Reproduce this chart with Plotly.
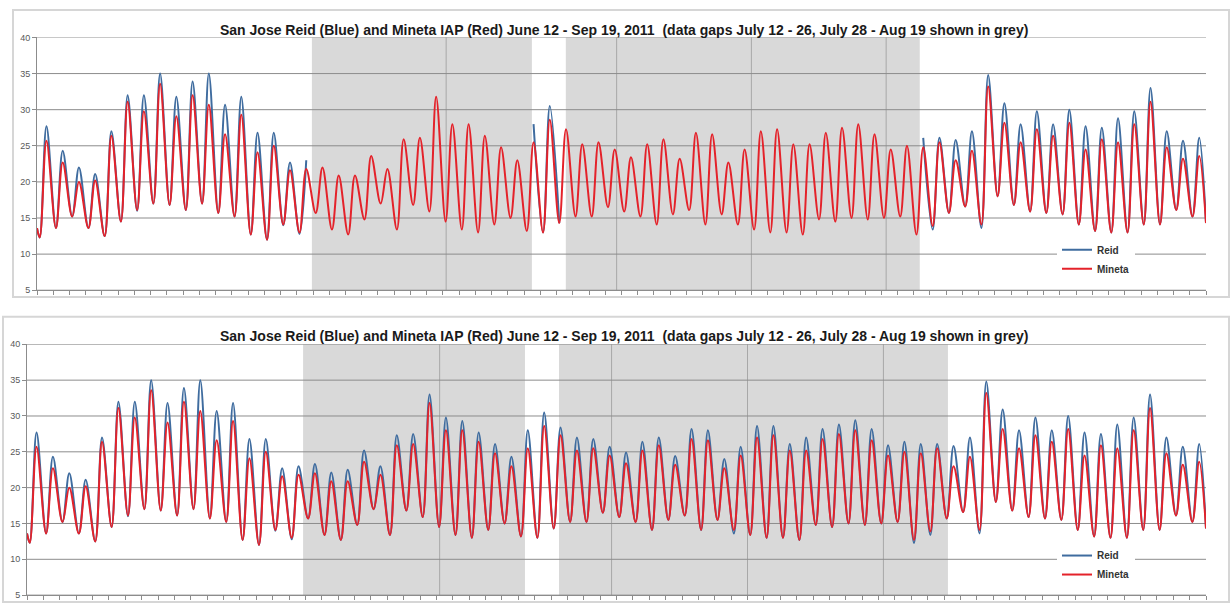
import plotly.graph_objects as go

# ---------------- data ----------------
# daily minimum (early morning) and maximum (afternoon), deg C, day 0 .. 71
mineta_min = [12.3, 13.6, 15.2, 13.6, 12.5, 14.5, 16.1, 17.0, 16.8, 16.1,
              17.0, 15.7, 15.2, 12.7, 12.0, 14.1, 13.0, 15.7, 13.4, 12.7,
              14.8, 17.0, 13.4, 16.8, 15.9, 14.5, 13.4, 13.0, 14.1, 15.0,
              13.2, 13.0, 14.3, 15.2, 15.2, 16.5, 15.9, 15.2, 14.1, 15.5,
              16.1, 14.1, 15.5, 14.1, 13.4, 13.0, 13.0, 12.7, 14.8, 14.5,
              15.0, 14.8, 15.0, 15.2, 12.7, 13.9, 15.7, 16.6, 14.1, 18.0,
              16.8, 15.9, 15.7, 15.5, 14.1, 13.2, 13.0, 13.0, 14.1, 14.1,
              16.1, 15.2]
mineta_max = [25.7, 22.7, 20.0, 20.2, 26.4, 31.1, 29.8, 33.6, 29.1, 32.0,
              30.7, 26.6, 29.3, 24.1, 25.0, 21.6, 21.8, 22.0, 20.9, 20.9,
              23.6, 21.8, 25.9, 26.1, 31.8, 28.0, 28.0, 26.4, 24.8, 23.0,
              25.5, 28.6, 27.3, 25.2, 25.5, 24.5, 23.4, 25.2, 25.9, 23.2,
              26.8, 26.6, 22.7, 24.5, 27.0, 27.3, 25.2, 25.2, 26.8, 27.5,
              28.0, 26.6, 24.5, 25.0, 24.8, 25.5, 23.0, 24.3, 33.2, 28.2,
              25.5, 27.3, 26.4, 28.2, 24.5, 25.9, 25.5, 28.0, 31.1, 24.8,
              23.2, 23.6]
reid_min = [12.3, 13.6, 15.2, 13.6, 12.5, 14.5, 16.0, 17.0, 16.8, 16.1,
            17.0, 15.7, 15.2, 12.7, 12.0, 14.0, 12.8, 15.7, 13.4, 12.7,
            14.8, 17.0, 13.4, 16.8, 15.9, 14.5, 13.4, 13.0, 14.1, 15.0,
            13.2, 13.0, 14.3, 15.2, 15.2, 16.5, 15.9, 15.2, 14.1, 15.5,
            16.1, 14.1, 15.5, 13.6, 13.4, 13.0, 13.0, 12.7, 14.8, 14.5,
            15.0, 14.8, 15.0, 15.2, 12.3, 13.4, 15.7, 16.6, 13.6, 18.0,
            16.8, 15.9, 15.7, 15.5, 14.1, 13.2, 13.0, 13.0, 14.1, 14.1,
            16.1, 15.2]
reid_max = [27.7, 24.3, 22.0, 21.1, 27.0, 32.0, 32.0, 35.0, 31.8, 33.9,
            35.0, 30.7, 31.8, 26.8, 26.8, 22.7, 23.0, 23.3, 22.1, 22.5,
            25.2, 23.0, 27.3, 27.5, 33.0, 29.8, 29.3, 27.7, 26.1, 24.3,
            28.0, 30.5, 28.4, 27.0, 26.8, 25.7, 24.9, 26.4, 27.0, 24.4,
            28.2, 28.0, 24.0, 25.7, 28.6, 28.6, 26.1, 27.0, 28.2, 28.8,
            29.4, 28.2, 25.9, 26.4, 26.1, 26.1, 25.8, 27.0, 34.8, 30.9,
            28.0, 29.8, 28.0, 30.0, 27.7, 27.5, 28.8, 29.8, 33.0, 27.0,
            25.7, 26.1]
start_temp = 13.6
end_temp = 14.3
min_hour = 4     # hour of day of the minimum
max_hour = 14    # hour of day of the maximum
n_days = 72

# data gaps (in days from start) shown in grey
top_gaps = [(16.93, 30.48), (32.57, 54.37)]
bottom_gaps = [(16.86, 30.41), (32.49, 56.24)]
divider_days = [25.2, 35.7, 44.0, 52.3]
y_ticks = [5, 10, 15, 20, 25, 30, 35, 40]

title_text = ("San Jose Reid (Blue) and Mineta IAP (Red) June 12 - Sep 19, 2011 "
              "\u00a0(data gaps July 12 - 26, July 28 - Aug 19 shown in grey)")

REID_COLOR = "#3f6c9f"
MINETA_COLOR = "#e4222a"
GREY = "#d9d9d9"
GRID = "#8c8c8c"


def build(mins, maxs):
    xs, ys = [0.0], [start_temp]
    for k in range(n_days):
        xs += [k + min_hour / 24, k + max_hour / 24]
        ys += [mins[k], maxs[k]]
    xs.append(float(n_days))
    ys.append(end_temp)
    return xs, ys


def mask(xs, ys, gaps):
    return [None if any(a <= x <= b for a, b in gaps) else y for x, y in zip(xs, ys)]


rx, ry = build(reid_min, reid_max)
mx, my = build(mineta_min, mineta_max)

fig = go.Figure()
# top panel: Reid missing inside grey gaps
fig.add_trace(go.Scatter(x=rx, y=mask(rx, ry, top_gaps), name="Reid", mode="lines",
                         line=dict(color=REID_COLOR, width=2, shape="spline"),
                         connectgaps=False, xaxis="x", yaxis="y", legend="legend"))
fig.add_trace(go.Scatter(x=mx, y=my, name="Mineta", mode="lines",
                         line=dict(color=MINETA_COLOR, width=2, shape="spline"),
                         xaxis="x", yaxis="y", legend="legend"))
# bottom panel
fig.add_trace(go.Scatter(x=rx, y=ry, name="Reid", mode="lines",
                         line=dict(color=REID_COLOR, width=2, shape="spline"),
                         xaxis="x2", yaxis="y2", legend="legend2"))
fig.add_trace(go.Scatter(x=mx, y=my, name="Mineta", mode="lines",
                         line=dict(color=MINETA_COLOR, width=2, shape="spline"),
                         xaxis="x2", yaxis="y2", legend="legend2"))

W, H = 1230, 608
shapes = []
for gaps, xr, yr, ya in [(top_gaps, "x", "y domain", "y"), (bottom_gaps, "x2", "y2 domain", "y2")]:
    for a, b in gaps:
        shapes.append(dict(type="rect", xref=xr, yref=yr, x0=a, x1=b, y0=0, y1=1,
                           fillcolor=GREY, line=dict(width=0), layer="below"))
    for d in divider_days:
        shapes.append(dict(type="line", xref=xr, yref=yr, x0=d, x1=d, y0=0, y1=1,
                           line=dict(color="#a8a8a8", width=1), layer="below"))
    # horizontal gridlines drawn over the grey bands
    for t in y_ticks:
        shapes.append(dict(type="line", xref=xr + " domain", yref=ya, x0=0, x1=1, y0=t, y1=t,
                           line=dict(color=GRID, width=1), layer="below"))
# chart frames
shapes.append(dict(type="rect", xref="paper", yref="paper", x0=13 / W, x1=1229 / W,
                   y0=1 - 297 / H, y1=1 - 5 / H, line=dict(color="#d6d6d6", width=2),
                   fillcolor="rgba(0,0,0,0)"))
shapes.append(dict(type="rect", xref="paper", yref="paper", x0=3 / W, x1=1229 / W,
                   y0=1 - 607 / H, y1=1 - 317 / H, line=dict(color="#d6d6d6", width=2),
                   fillcolor="rgba(0,0,0,0)"))

xcommon = dict(range=[0, n_days], showgrid=False, showticklabels=False, ticks="outside",
               tick0=0, dtick=1, ticklen=4, tickcolor=GRID, showline=True,
               linecolor=GRID, linewidth=1, zeroline=False, fixedrange=True)
ycommon = dict(range=[5, 40], tickvals=y_ticks, showgrid=False,
               showline=True, linecolor=GRID, linewidth=1, ticks="outside", ticklen=4,
               tickcolor=GRID, tickfont=dict(family="Liberation Sans, Arial", size=9, color="#595959"),
               zeroline=False, fixedrange=True)

legcommon = dict(bgcolor="white", borderwidth=0, itemwidth=30, tracegroupgap=0,
                 font=dict(family="Liberation Sans, Arial", size=10, color="#333333", weight="bold"),
                 xanchor="left", yanchor="top", itemclick=False)

fig.update_layout(
    width=W, height=H, margin=dict(l=0, r=0, t=0, b=0),
    paper_bgcolor="white", plot_bgcolor="white", showlegend=True,
    xaxis=dict(domain=[37 / W, 1206 / W], anchor="y", **xcommon),
    yaxis=dict(domain=[1 - 290 / H, 1 - 33 / H], anchor="x", **ycommon),
    xaxis2=dict(domain=[27 / W, 1206 / W], anchor="y2", **xcommon),
    yaxis2=dict(domain=[1 - 600 / H, 1 - 345 / H], anchor="x2", **ycommon),
    legend=dict(x=1057 / W, y=1 - 234 / H, **legcommon),
    legend2=dict(x=1057 / W, y=1 - 545 / H, **legcommon),
    shapes=shapes,
    annotations=[
        dict(text="<b>" + title_text + "</b>", xref="paper", yref="paper", x=624 / W,
             y=1 - 25 / H, xanchor="center", yanchor="middle", showarrow=False,
             font=dict(family="Liberation Sans, Arial", size=14, color="#1a1a1a")),
        dict(text="<b>" + title_text + "</b>", xref="paper", yref="paper", x=624 / W,
             y=1 - 337 / H, xanchor="center", yanchor="middle", showarrow=False,
             font=dict(family="Liberation Sans, Arial", size=14, color="#1a1a1a")),
    ],
)

fig.write_html("out.html", config={"displayModeBar": False},
               post_script="document.body.style.margin='0px';")
